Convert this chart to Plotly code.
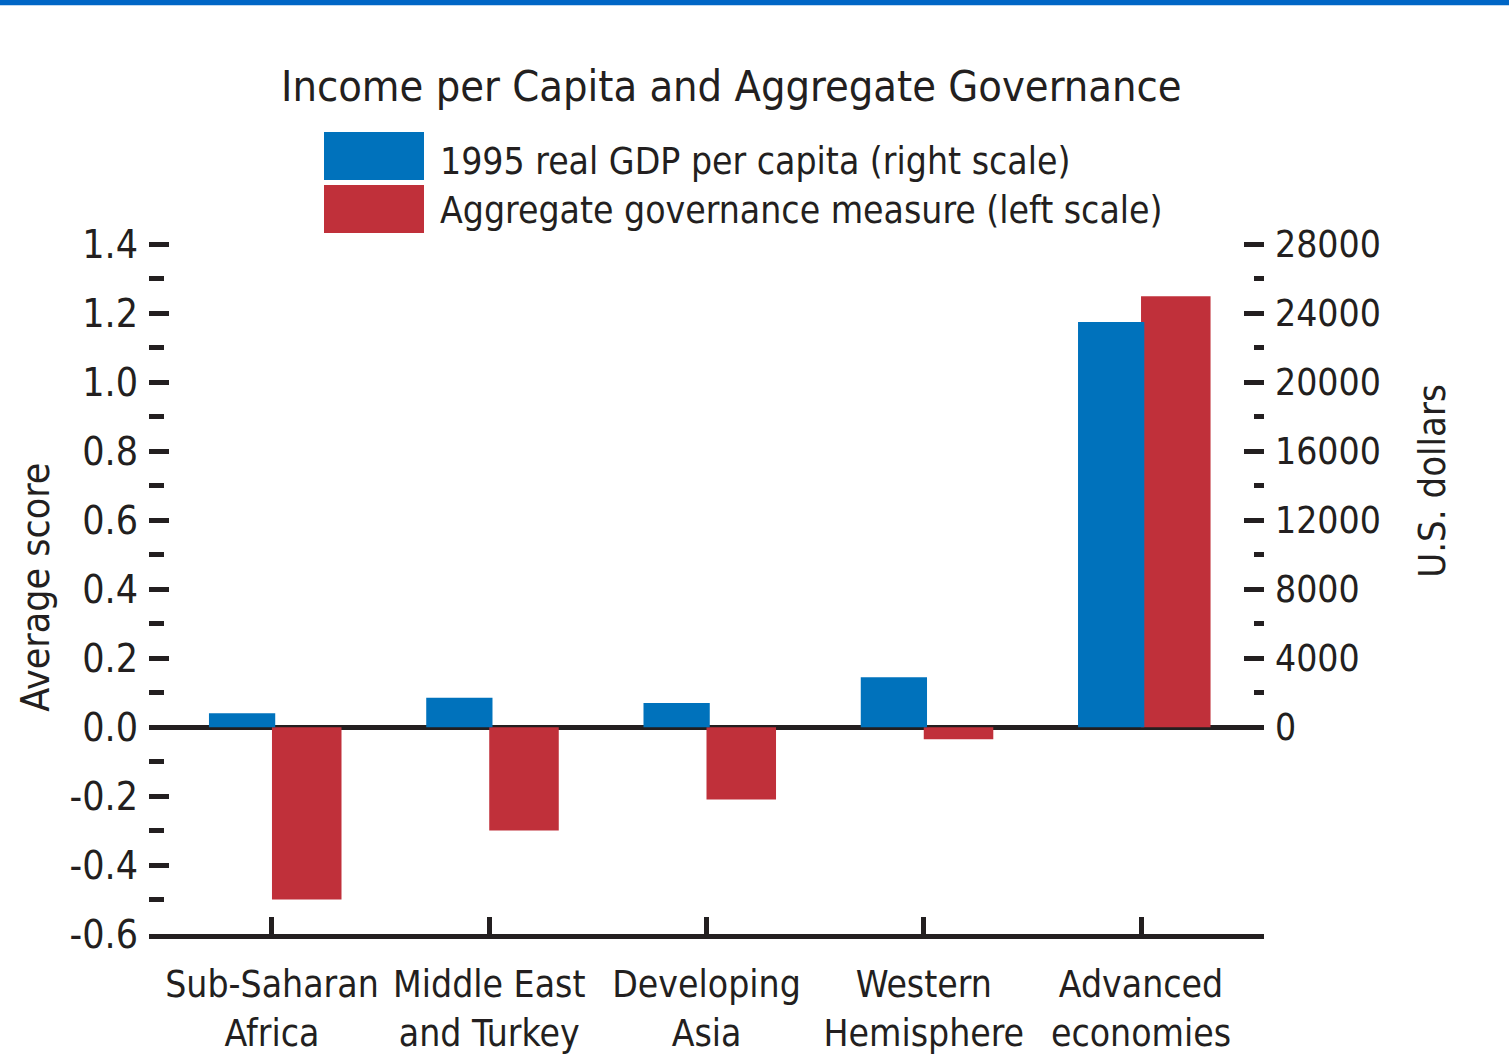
import plotly.graph_objects as go

regions = ["Sub-Saharan<br>Africa", "Middle East<br>and Turkey", "Developing<br>Asia",
           "Western<br>Hemisphere", "Advanced<br>economies"]
gdp_per_capita = [800, 1700, 1400, 2900, 23500]          # right scale, US dollars
governance = [-0.50, -0.30, -0.21, -0.035, 1.25]          # left scale, average score

left_ticks = [-0.6, -0.4, -0.2, 0.0, 0.2, 0.4, 0.6, 0.8, 1.0, 1.2, 1.4]
left_minor = [-0.5, -0.3, -0.1, 0.1, 0.3, 0.5, 0.7, 0.9, 1.1, 1.3]
right_ticks = [0, 4000, 8000, 12000, 16000, 20000, 24000, 28000]
right_minor = [2000, 6000, 10000, 14000, 18000, 22000, 26000]

BLUE = "#0072bc"
RED = "#c0303a"
INK = "#231f20"
FONT = "Liberation Sans Narrow, DejaVu Sans Condensed, Arial Narrow, sans-serif"

fig = go.Figure()

fig.add_trace(go.Bar(
    x=regions, y=gdp_per_capita, yaxis="y2",
    width=0.305, offset=-0.29,
    marker=dict(color=BLUE, line=dict(width=0)),
    name="1995 real GDP per capita (right scale)",
))
fig.add_trace(go.Bar(
    x=regions, y=governance, yaxis="y",
    width=0.32, offset=0.0,
    marker=dict(color=RED, line=dict(width=0)),
    name="Aggregate governance measure (left scale)",
))

W, H = 1509, 1060
# plot box; the top has a little headroom above 1.4 so its tick gets drawn
L, R, T, B = 149, 1264, 241, 934.5


def px(x):
    return (x - L) / (R - L)


def py(y):
    return (B - y) / (B - T)


# top blue rule
fig.add_shape(type="rect", xref="paper", yref="paper",
              x0=px(0), x1=px(W), y0=py(5), y1=py(-2),
              fillcolor="#0066c6", line=dict(width=0))

# legend swatches drawn by hand (big blocks like the original)
fig.add_shape(type="rect", xref="paper", yref="paper",
              x0=px(324), x1=px(424), y0=py(180), y1=py(132),
              fillcolor=BLUE, line=dict(width=0))
fig.add_shape(type="rect", xref="paper", yref="paper",
              x0=px(324), x1=px(424), y0=py(233), y1=py(185),
              fillcolor=RED, line=dict(width=0))

annos = [
    dict(text="Income per Capita and Aggregate Governance", x=px(731), y=py(86),
         xanchor="center", font=dict(size=43, color=INK)),
    dict(text="1995 real GDP per capita (right scale)", x=px(438), y=py(161),
         xanchor="left", font=dict(size=37, color=INK)),
    dict(text="Aggregate governance measure (left scale)", x=px(438), y=py(210),
         xanchor="left", font=dict(size=37, color=INK)),
    dict(text="Average score", x=px(36), y=py(588), textangle=-90,
         xanchor="center", font=dict(size=39, color=INK)),
    dict(text="U.S. dollars", x=px(1432), y=py(481), textangle=-90,
         xanchor="center", font=dict(size=38, color=INK)),
]
for a in annos:
    fig.add_annotation(xref="paper", yref="paper", showarrow=False,
                       yanchor="middle", font_family=FONT, **a)

fig.update_layout(
    width=W, height=H,
    margin=dict(l=L, r=W - R, t=T, b=H - B, pad=0, autoexpand=False),
    paper_bgcolor="white", plot_bgcolor="white",
    showlegend=False,
    font=dict(family=FONT, size=38, color=INK),
    xaxis=dict(
        range=[-0.566, 4.566], showgrid=False, zeroline=False,
        showline=True, linecolor=INK, linewidth=5,
        ticks="inside", ticklen=17, tickwidth=4.5, tickcolor=INK,
        tickfont=dict(size=37), tickangle=0, automargin=False,
        ticklabelstandoff=14,
    ),
    yaxis=dict(
        range=[-0.6, 1.41], tickvals=left_ticks,
        ticktext=[f"{v:.1f}" for v in left_ticks],
        showgrid=False, showline=False, automargin=False,
        zeroline=True, zerolinecolor=INK, zerolinewidth=5,
        ticks="inside", ticklen=20, tickwidth=4.5, tickcolor=INK,
        minor=dict(tickvals=left_minor, ticks="inside", ticklen=15,
                   tickwidth=4.5, tickcolor=INK, showgrid=False),
        tickfont=dict(size=39), ticklabelstandoff=10,
    ),
    yaxis2=dict(
        range=[-12000, 28200], overlaying="y", side="right",
        tickvals=right_ticks, ticktext=[str(v) for v in right_ticks],
        showgrid=False, showline=False, zeroline=False, automargin=False,
        ticks="inside", ticklen=20, tickwidth=4.5, tickcolor=INK,
        minor=dict(tickvals=right_minor, ticks="inside", ticklen=10,
                   tickwidth=4.5, tickcolor=INK, showgrid=False),
        tickfont=dict(size=37), ticklabelstandoff=10,
    ),
)

# drop the browser's default body margin so the figure sits at the page corner
fig.write_html("out.html", config={"displayModeBar": False},
               post_script="document.body.style.margin = '0';")
